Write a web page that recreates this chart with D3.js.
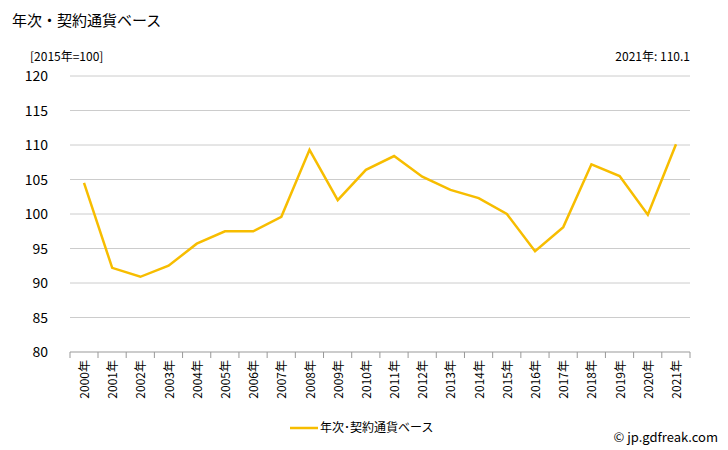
<!DOCTYPE html>
<html><head><meta charset="utf-8">
<script src="https://cdn.jsdelivr.net/npm/d3@7"></script>
<style>body{margin:0;background:#fff}svg{font-family:"Noto Sans CJK JP","Noto Sans",sans-serif}</style>
</head><body><svg id="c" width="728" height="450"></svg>
<script>
const years=["2000年","2001年","2002年","2003年","2004年","2005年","2006年","2007年","2008年","2009年","2010年","2011年","2012年","2013年","2014年","2015年","2016年","2017年","2018年","2019年","2020年","2021年"];
const values=[104.5,92.2,90.9,92.5,95.7,97.5,97.5,99.6,109.3,102.0,106.4,108.4,105.4,103.5,102.3,100.0,94.6,98.1,107.2,105.5,99.9,110.1];
const yTicks=[80,85,90,95,100,105,110,115,120];
const svg=d3.select("#c");
const L=70,R=690,T=76,B=352;
const x=d3.scalePoint().domain(years).range([L+14,R-14]);
const y=d3.scaleLinear().domain([80,120]).range([B,T]);
svg.append("g").selectAll("line").data(yTicks).join("line")
 .attr("x1",L).attr("x2",R).attr("y1",d=>y(d)).attr("y2",d=>y(d))
 .attr("stroke",d=>d===80?"#999":"#ccc").attr("stroke-width",1);
svg.append("g").selectAll("text").data(yTicks).join("text")
 .attr("x",L-22).attr("y",d=>y(d)+5).attr("text-anchor","end").attr("font-size",14).text(d=>d);
svg.append("g").selectAll("line").data(years).join("line")
 .attr("x1",d=>x(d)+14).attr("x2",d=>x(d)+14).attr("y1",B).attr("y2",B+6).attr("stroke","#999");
svg.append("line").attr("x1",L).attr("x2",L).attr("y1",B).attr("y2",B+6).attr("stroke","#999");
svg.append("g").selectAll("text").data(years).join("text")
 .attr("transform",d=>`translate(${x(d)+5},${B+8}) rotate(-90)`)
 .attr("text-anchor","end").attr("font-size",12).text(d=>d);
svg.append("path").datum(values).attr("fill","none").attr("stroke","#f7bd00").attr("stroke-width",2.5)
 .attr("d",d3.line().x((d,i)=>x(years[i])).y(d=>y(d)));
svg.append("text").attr("x",12).attr("y",26).attr("font-size",15).text("年次・契約通貨ベース");
svg.append("text").attr("x",30).attr("y",61).attr("font-size",12).text("[2015年=100]");
svg.append("text").attr("x",690).attr("y",61).attr("font-size",12).attr("text-anchor","end").text("2021年: 110.1");
svg.append("line").attr("x1",290).attr("x2",318).attr("y1",428).attr("y2",428).attr("stroke","#f7bd00").attr("stroke-width",2.5);
svg.append("text").attr("x",320).attr("y",432).attr("font-size",12).text("年次･契約通貨ベース");
svg.append("text").attr("x",718).attr("y",442).attr("font-size",13).attr("text-anchor","end").text("© jp.gdfreak.com");
</script></body></html>
